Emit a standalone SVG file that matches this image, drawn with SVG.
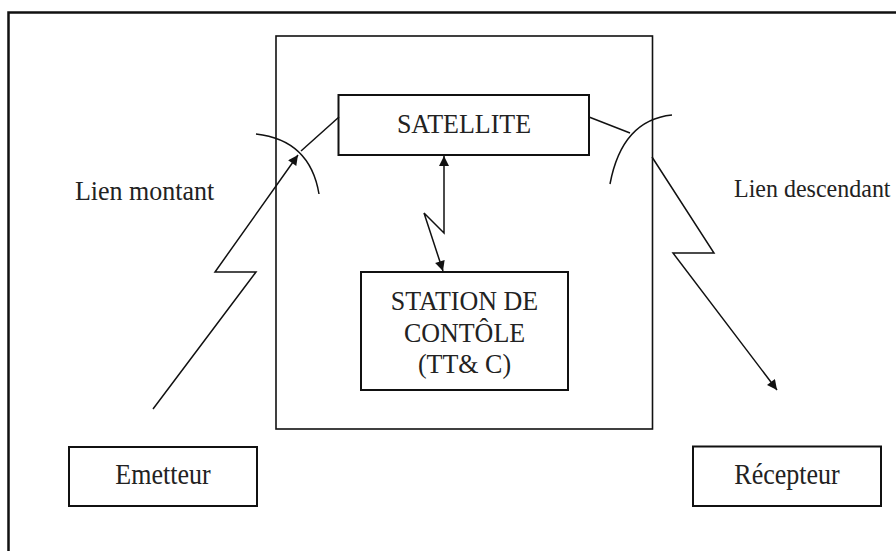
<svg xmlns="http://www.w3.org/2000/svg" width="896" height="551" viewBox="0 0 896 551">
  <style>
    .box { fill: #ffffff; stroke: #111111; stroke-width: 2; }
    .thin { fill: none; stroke: #111111; stroke-width: 1.6; }
    .link { fill: none; stroke: #111111; stroke-width: 1.5; }
    .lbl { font-family: "Liberation Serif", "Times New Roman", serif; font-size: 26px; fill: #222222; }
  </style>
  <defs>
    <marker id="head" viewBox="0 0 10 10" refX="10" refY="5" markerUnits="userSpaceOnUse" markerWidth="15" markerHeight="10" orient="auto-start-reverse">
      <path d="M0,0 L10,5 L0,10 z" fill="#111111"/>
    </marker>
  </defs>
  <rect width="896" height="551" fill="#ffffff"/>

  <!-- outer frame (runs past the right and bottom edges) -->
  <path d="M8.5,551 L8.5,12.5 L896,12.5" fill="none" stroke="#111111" stroke-width="2.5"/>

  <!-- space segment enclosure -->
  <rect id="espace" class="thin" x="276" y="36" width="376.5" height="393"/>

  <g id="satellite">
    <rect class="box" x="338.5" y="95" width="250.5" height="60"/>
    <text class="lbl" transform="translate(464 133) scale(1 1.08)" text-anchor="middle">SATELLITE</text>
  </g>

  <g id="station">
    <rect class="box" x="361" y="272" width="207" height="118"/>
    <text class="lbl" transform="translate(464.5 310) scale(1 1.08)" text-anchor="middle">STATION DE</text>
    <text class="lbl" transform="translate(464.5 342) scale(1 1.08)" text-anchor="middle">CONTÔLE</text>
    <text class="lbl" transform="translate(464.5 373) scale(1 1.08)" text-anchor="middle">(TT&amp; C)</text>
  </g>

  <g id="emetteur">
    <rect class="box" x="69" y="447" width="188" height="59" stroke-width="2.5"/>
    <text class="lbl" transform="translate(163 484) scale(1 1.1)" text-anchor="middle">Emetteur</text>
  </g>

  <g id="recepteur">
    <rect class="box" x="693" y="446.5" width="188" height="59.5" stroke-width="2.5"/>
    <text class="lbl" transform="translate(787 484) scale(1 1.1)" text-anchor="middle">Récepteur</text>
  </g>

  <g id="labels">
    <text class="lbl" transform="translate(75 200) scale(1 1.05)">Lien montant</text>
    <text class="lbl" transform="translate(734 197) scale(1 1.08)" style="font-size:24px">Lien descendant</text>
  </g>

  <g id="connectors">
    <!-- antenna beams -->
    <path class="link" d="M256,134 Q310,140 319,194"/>
    <path class="link" d="M339,117 L301,151"/>
    <path class="link" d="M610,184 Q622,120 672,115"/>
    <path class="link" d="M589,117 L630,133"/>
    <!-- uplink -->
    <path class="link" d="M153,409 L256,272 L215,272 L298,155" marker-end="url(#head)"/>
    <!-- downlink -->
    <path class="link" d="M652,157 L714,253 L673,253 L777,390" marker-end="url(#head)"/>
    <!-- TT&C link -->
    <path class="link" d="M444,156 L444,233 L424,213 L443,271" marker-start="url(#head)" marker-end="url(#head)"/>
  </g>
</svg>
